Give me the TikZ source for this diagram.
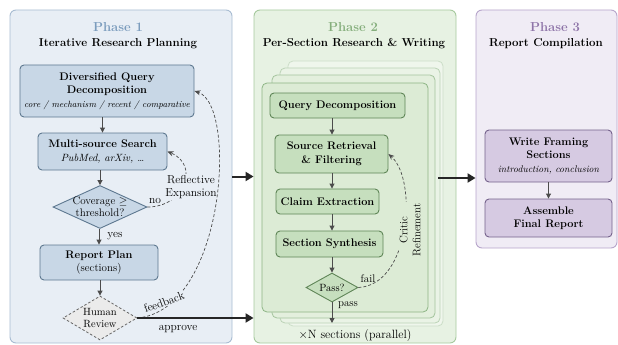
\documentclass[tikz,border=0pt]{standalone}
\usetikzlibrary{shapes.geometric,arrows.meta}
\definecolor{pOnePanel}{HTML}{E8EEF5}
\definecolor{pOneLine}{HTML}{A8BCD2}
\definecolor{pOneFill}{HTML}{C8D7E6}
\definecolor{pOneEdge}{HTML}{5E7890}
\definecolor{pOneTitle}{HTML}{7B9CBD}
\definecolor{pTwoPanel}{HTML}{E7F2E3}
\definecolor{pTwoLine}{HTML}{A6C99E}
\definecolor{pTwoFill}{HTML}{C6DFBE}
\definecolor{pTwoEdge}{HTML}{5F8557}
\definecolor{pTwoTitle}{HTML}{85AE7C}
\definecolor{cardFill}{HTML}{DCEBD5}
\definecolor{cardLine}{HTML}{8DB585}
\definecolor{pThreePanel}{HTML}{F0ECF5}
\definecolor{pThreeLine}{HTML}{B7A5CB}
\definecolor{pThreeFill}{HTML}{D6CAE2}
\definecolor{pThreeEdge}{HTML}{75628C}
\definecolor{pThreeTitle}{HTML}{8E74A8}
\begin{document}
\begin{tikzpicture}[x=1pt,y=-1pt,
  panel/.style={rounded corners=6pt, line width=0.9pt, inner sep=0pt},
  box/.style={rounded corners=4pt, line width=0.9pt, inner sep=0pt, align=center,
     font=\fontsize{11}{13.5}\selectfont},
  boxone/.style={box, draw=pOneEdge, fill=pOneFill},
  boxtwo/.style={box, draw=pTwoEdge, fill=pTwoFill},
  boxthree/.style={box, draw=pThreeEdge, fill=pThreeFill},
  ptitle/.style={font=\fontsize{13}{15}\selectfont\bfseries},
  psub/.style={font=\fontsize{11.5}{14}\selectfont\bfseries},
  lbl/.style={font=\fontsize{11.5}{13}\selectfont, inner sep=1pt},
  arr/.style={-{Triangle[length=5pt,width=5pt]}, line width=0.9pt, draw=black!70},
  darr/.style={dash pattern=on 3pt off 2pt, -{Stealth[length=6pt,width=5pt]}, line width=0.7pt, draw=black!70},
  bigarr/.style={-{Triangle[length=8pt,width=9pt]}, line width=2pt, draw=black!85},
  cardbox/.style={rounded corners=5pt, line width=0.8pt}
]
\useasboundingbox (0,0) rectangle (618,345);

% ---------- panels ----------
\node[panel, draw=pOneLine, fill=pOnePanel, minimum width=222pt, minimum height=333pt] (p1) at (121,176.5) {};
\node[panel, draw=pTwoLine, fill=pTwoPanel, minimum width=202pt, minimum height=333pt] (p2) at (355,176.5) {};
\node[panel, draw=pThreeLine, fill=pThreePanel, minimum width=141pt, minimum height=238pt] (p3) at (546.5,129) {};

% ---------- titles ----------
\node[ptitle, text=pOneTitle] (t1) at (118,27) {Phase 1};
\node[psub] (s1) at (118,44) {Iterative Research Planning};
\node[ptitle, text=pTwoTitle] (t2) at (353,27) {Phase 2};
\node[psub] (s2) at (354,44) {Per-Section Research \& Writing};
\node[ptitle, text=pThreeTitle] (t3) at (555,27) {Phase 3};
\node[psub] (s3) at (546,44) {Report Compilation};

% ---------- phase 1 ----------
\node[boxone, minimum width=174pt, minimum height=52pt] (dqd) at (107,91)
  {\textbf{Diversified Query}\\\textbf{Decomposition}\\[0pt]{\fontsize{9}{11}\selectfont\itshape core / mechanism / recent / comparative}};
\node[boxone, minimum width=129pt, minimum height=37pt] (mss) at (102.5,151.5)
  {\textbf{Multi-source Search}\\{\fontsize{10.5}{12}\selectfont\itshape PubMed, arXiv, \dots}};
\node[diamond, draw=pOneEdge, fill=pOneFill, line width=0.9pt, inner sep=0pt,
      minimum width=94pt, minimum height=43pt,
      label={[font=\fontsize{11}{12}\selectfont, align=center]center:Coverage $\geq$\\threshold?}] (cov) at (100,207) {};
\node[boxone, minimum width=118pt, minimum height=35pt] (rp) at (99,262.5)
  {\textbf{Report Plan}\\{\fontsize{11}{13}\selectfont (sections)}};
\node[diamond, draw=black!60, fill=black!8, dash pattern=on 2.5pt off 2pt, line width=0.8pt, inner sep=0pt,
      minimum width=74pt, minimum height=44pt,
      label={[font=\fontsize{10.5}{12}\selectfont, align=center]center:Human\\Review}] (hr) at (100,318) {};

\draw[arr] (mss.north |- dqd.south) -- (mss.north);
\draw[arr] (cov.north |- mss.south) -- (cov.north);
\draw[arr] (cov.south) -- (rp.north |- cov.south) -- (rp.north);
\draw[arr] (hr.north |- rp.south) -- (hr.north);

\draw[darr] (cov.east) .. controls (185,207) and (200,165) .. (mss.east);
\node[lbl, fill=pOnePanel, align=center] (refl) at (191,187) {Reflective\\Expansion};
\node[lbl] (no) at (155,201) {no};
\node[lbl] (yes) at (115,236) {yes};

\draw[darr] (hr.east) .. controls (225,310) and (238,105) .. (dqd.east);
\node[lbl, rotate=20, fill=pOnePanel, inner sep=0.5pt] (fb) at (164,302) {feedback};
\node[lbl] (appr) at (178,329) {approve};

% ---------- phase 2 cards ----------
\draw[cardbox, draw=cardLine!45, fill=cardFill!45] (288,61) rectangle (443,326);
\draw[cardbox, draw=cardLine!60, fill=cardFill!60] (280,68) rectangle (440,323);
\draw[cardbox, draw=cardLine!80, fill=cardFill!80] (272,75) rectangle (435,318);
\draw[cardbox, draw=cardLine, fill=cardFill] (262,83) rectangle (428,312);

\node[boxtwo, minimum width=135pt, minimum height=25pt] (qd) at (337.5,105.5) {\textbf{Query Decomposition}};
\node[boxtwo, minimum width=113pt, minimum height=38pt] (srf) at (331.5,154) {\textbf{Source Retrieval}\\\textbf{\& Filtering}};
\node[boxtwo, minimum width=103pt, minimum height=25pt] (ce) at (327.5,201.5) {\textbf{Claim Extraction}};
\node[boxtwo, minimum width=107pt, minimum height=26pt] (ss) at (329.5,244) {\textbf{Section Synthesis}};
\node[diamond, draw=pTwoEdge, fill=pTwoFill, line width=0.9pt, inner sep=0pt,
      minimum width=52pt, minimum height=29pt,
      label={[font=\fontsize{10.5}{12}\selectfont]center:Pass?}] (pass) at (332,287.5) {};
\coordinate (pend) at (332,323);

\draw[arr] (pass.north |- qd.south) -- (pass.north |- srf.north);
\draw[arr] (pass.north |- srf.south) -- (pass.north |- ce.north);
\draw[arr] (pass.north |- ce.south) -- (pass.north |- ss.north);
\draw[arr] (pass.north |- ss.south) -- (pass.north);
\draw[arr] (pass.south) -- (pend);

\draw[darr] (pass.east) .. controls (410,285) and (418,180) .. (srf.east);
\node[lbl, rotate=90, align=center, fill=cardFill, font=\fontsize{11}{13}\selectfont] (crit) at (410,230) {Critic\\Refinement};
\node[lbl, font=\fontsize{11}{13}\selectfont] (fail) at (368,279) {fail};
\node[lbl, font=\fontsize{11}{13}\selectfont] (passl) at (348,305) {pass};
\node[font=\fontsize{12}{14}\selectfont] (xn) at (355,336) {$\times$N sections (parallel)};

% ---------- phase 3 ----------
\node[boxthree, minimum width=127pt, minimum height=52pt] (wfs) at (548.5,156)
  {\textbf{Write Framing}\\\textbf{Sections}\\[0pt]{\fontsize{9.7}{11.5}\selectfont\itshape introduction, conclusion}};
\node[boxthree, minimum width=127pt, minimum height=38pt] (afr) at (548.5,218)
  {\textbf{Assemble}\\\textbf{Final Report}};
\draw[arr] (wfs.south) -- (afr.north);

% ---------- phase links ----------
\draw[bigarr] (p1.east) -- (p2.west);
\draw[bigarr] (hr.east) -- (hr.east -| p2.west);
\coordinate (o2) at (438,178);
\draw[bigarr] (o2) -- (o2 -| p3.west);
\end{tikzpicture}
\end{document}
